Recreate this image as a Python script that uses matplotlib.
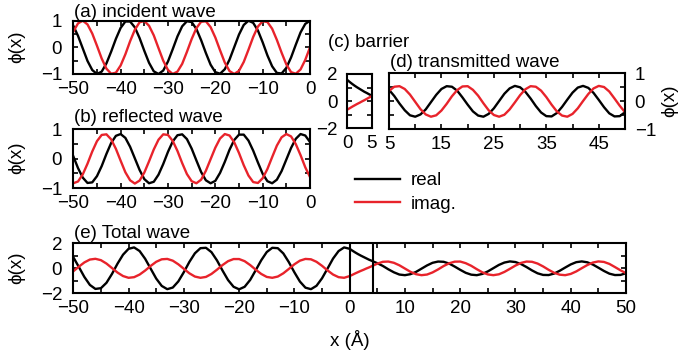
import numpy as np
import matplotlib
matplotlib.use('Agg')
import matplotlib.pyplot as plt
from matplotlib.ticker import MultipleLocator
from matplotlib.lines import Line2D

plt.rcParams['font.family'] = ['Liberation Sans', 'DejaVu Sans']
plt.rcParams['font.size'] = 13.5

x_left = list(range(-50, 1))          # -50 ... 0
x_barrier = [0, 0.5, 1, 1.5, 2, 2.5, 3, 3.5, 4, 4.5, 5]
x_trans = list(range(5, 51))          # 5 ... 50
barrier_lines = [0, 4.2]

inc_re = [0.81, 0.43, -0.04, -0.51, -0.85, -1.00, -0.91, -0.60, -0.16, 0.32,
          0.73, 0.97, 0.97, 0.75, 0.35, -0.13, -0.58, -0.90, -1.00, -0.87,
          -0.53, -0.07, 0.41, 0.79, 0.98, 0.95, 0.69, 0.27, -0.21, -0.65,
          -0.93, -0.99, -0.82, -0.46, 0.01, 0.48, 0.84, 1.00, 0.92, 0.63,
          0.19, -0.30, -0.71, -0.96, -0.98, -0.77, -0.38, 0.10, 0.56, 0.88, 1.00]
inc_im = [0.59, 0.90, 1.00, 0.86, 0.52, 0.06, -0.42, -0.80, -0.99, -0.95,
          -0.68, -0.26, 0.23, 0.66, 0.94, 0.99, 0.81, 0.45, -0.03, -0.50,
          -0.85, -1.00, -0.91, -0.62, -0.17, 0.31, 0.72, 0.96, 0.98, 0.76,
          0.37, -0.11, -0.57, -0.89, -1.00, -0.88, -0.55, -0.09, 0.39, 0.78,
          0.98, 0.95, 0.70, 0.28, -0.20, -0.64, -0.93, -0.99, -0.83, -0.47, 0.00]

ref_re = [0.08, -0.32, -0.64, -0.82, -0.80, -0.59, -0.25, 0.16, 0.53, 0.77,
          0.83, 0.70, 0.40, 0.01, -0.38, -0.69, -0.83, -0.78, -0.54, -0.18,
          0.23, 0.58, 0.79, 0.82, 0.66, 0.34, -0.06, -0.45, -0.73, -0.83,
          -0.75, -0.48, -0.11, 0.30, 0.63, 0.81, 0.81, 0.61, 0.27, -0.13,
          -0.51, -0.76, -0.83, -0.71, -0.42, -0.03, 0.36, 0.67, 0.83, 0.78, 0.56]
ref_im = [-0.83, -0.77, -0.53, -0.17, 0.24, 0.59, 0.80, 0.82, 0.65, 0.33,
          -0.07, -0.46, -0.73, -0.84, -0.74, -0.47, -0.09, 0.31, 0.64, 0.82,
          0.80, 0.60, 0.26, -0.15, -0.52, -0.76, -0.83, -0.71, -0.41, -0.02,
          0.37, 0.68, 0.83, 0.78, 0.55, 0.19, -0.22, -0.57, -0.79, -0.82,
          -0.66, -0.35, 0.05, 0.44, 0.72, 0.83, 0.75, 0.49, 0.12, -0.29, -0.62]

bar_re = [1.56, 1.41, 1.27, 1.14, 1.02, 0.91, 0.80, 0.69, 0.60, 0.50, 0.41]
bar_im = [-0.62, -0.52, -0.41, -0.31, -0.21, -0.12, -0.02, 0.07, 0.17, 0.27, 0.37]

tr_re = [0.41, 0.19, -0.08, -0.32, -0.50, -0.55, -0.47, -0.29, -0.03, 0.23,
         0.44, 0.54, 0.52, 0.38, 0.14, -0.12, -0.36, -0.51, -0.55, -0.45,
         -0.25, 0.01, 0.27, 0.46, 0.55, 0.50, 0.34, 0.10, -0.17, -0.40,
         -0.53, -0.54, -0.42, -0.20, 0.06, 0.31, 0.49, 0.55, 0.48, 0.30,
         0.05, -0.21, -0.43, -0.54, -0.53, -0.39]
tr_im = [0.37, 0.52, 0.54, 0.44, 0.24, -0.02, -0.28, -0.47, -0.55, -0.50,
         -0.33, -0.09, 0.18, 0.40, 0.53, 0.54, 0.41, 0.20, -0.07, -0.32,
         -0.49, -0.55, -0.48, -0.29, -0.04, 0.22, 0.43, 0.54, 0.52, 0.38,
         0.15, -0.12, -0.36, -0.51, -0.55, -0.45, -0.25, 0.01, 0.26, 0.46,
         0.55, 0.51, 0.35, 0.10, -0.16, -0.39]

tot_re = [0.89, 0.11, -0.69, -1.33, -1.65, -1.59, -1.16, -0.45, 0.37, 1.09,
          1.56, 1.67, 1.38, 0.76, -0.03, -0.82, -1.41, -1.67, -1.54, -1.05,
          -0.31, 0.51, 1.20, 1.61, 1.64, 1.29, 0.63, -0.18, -0.94, -1.48,
          -1.68, -1.48, -0.93, -0.16, 0.64, 1.30, 1.64, 1.61, 1.19, 0.49,
          -0.32, -1.06, -1.55, -1.67, -1.40, -0.80, -0.02, 0.78, 1.38, 1.67, 1.56]
tot_im = [-0.24, 0.13, 0.47, 0.70, 0.76, 0.65, 0.38, 0.02, -0.34, -0.62,
          -0.76, -0.71, -0.50, -0.18, 0.19, 0.52, 0.72, 0.75, 0.61, 0.32,
          -0.04, -0.40, -0.66, -0.76, -0.69, -0.45, -0.11, 0.26, 0.57, 0.74,
          0.74, 0.57, 0.26, -0.11, -0.45, -0.69, -0.76, -0.66, -0.40, -0.05,
          0.32, 0.61, 0.75, 0.72, 0.52, 0.20, -0.17, -0.50, -0.71, -0.76, -0.62]

legend_labels = ['real', 'imag.']
titles = ['(a) incident wave', '(b) reflected wave', '(c) barrier',
          '(d) transmitted wave', '(e) Total wave']

# ---------------- drawing ----------------
RED = '#e8232b'
LW = 1.7

fig = plt.figure(figsize=(6.79, 3.55), dpi=100)

def axpos(x0, y0, x1, y1):
    return [x0/679, 1-y1/355, (x1-x0)/679, (y1-y0)/355]

def style(ax, ypad=8, xpad=5):
    for s in ax.spines.values():
        s.set_linewidth(1.5)
    ax.tick_params(which='both', direction='in', top=True, right=True,
                   length=3.5, width=1.2)
    ax.tick_params(axis='y', pad=ypad)
    ax.tick_params(axis='x', pad=xpad)

# (a)
axa = fig.add_axes(axpos(73.3, 20.7, 310, 74))
axa.plot(x_left, inc_re, color='k', lw=LW)
axa.plot(x_left, inc_im, color=RED, lw=LW)
axa.set_xlim(-50, 0); axa.set_ylim(-1, 1)
axa.set_xticks([-50, -40, -30, -20, -10, 0]); axa.set_yticks([-1, 0, 1])
axa.xaxis.set_minor_locator(MultipleLocator(5)); axa.yaxis.set_minor_locator(MultipleLocator(0.5))
style(axa)

# (b)
axb = fig.add_axes(axpos(73.3, 129, 310, 188.3))
axb.plot(x_left, ref_re, color='k', lw=LW)
axb.plot(x_left, ref_im, color=RED, lw=LW)
axb.set_xlim(-50, 0); axb.set_ylim(-1, 1)
axb.set_xticks([-50, -40, -30, -20, -10, 0]); axb.set_yticks([-1, 0, 1])
axb.xaxis.set_minor_locator(MultipleLocator(5)); axb.yaxis.set_minor_locator(MultipleLocator(0.5))
style(axb)

# (c)
axc = fig.add_axes(axpos(347.3, 74, 371.7, 128.3))
axc.plot(x_barrier, bar_re, color='k', lw=LW)
axc.plot(x_barrier, bar_im, color=RED, lw=LW)
axc.set_xlim(0, 5); axc.set_ylim(-2, 2)
axc.set_xticks([0, 5]); axc.set_yticks([-2, 0, 2])
axc.yaxis.set_minor_locator(MultipleLocator(1))
style(axc, ypad=7)

# (d)
axd = fig.add_axes(axpos(389, 73.3, 625, 129.3))
axd.plot(x_trans, tr_re, color='k', lw=LW)
axd.plot(x_trans, tr_im, color=RED, lw=LW)
axd.set_xlim(5, 50); axd.set_ylim(-1, 1)
axd.set_xticks([5, 15, 25, 35, 45]); axd.set_yticks([-1, 0, 1])
axd.xaxis.set_minor_locator(MultipleLocator(5)); axd.yaxis.set_minor_locator(MultipleLocator(0.5))
style(axd, ypad=7)
axd.yaxis.tick_right()
axd.tick_params(which='both', left=True, right=True, direction='in')

# (e)
axe = fig.add_axes(axpos(73.3, 243.3, 626, 293.3))
xe = x_left + x_barrier[1:] + x_trans[1:]
ye_re = tot_re + bar_re[1:] + tr_re[1:]
ye_im = tot_im + bar_im[1:] + tr_im[1:]
axe.plot(xe, ye_re, color='k', lw=LW)
axe.plot(xe, ye_im, color=RED, lw=LW)
for xv in barrier_lines:
    axe.axvline(xv, color='k', lw=1.5)
axe.set_xlim(-50, 50); axe.set_ylim(-2, 2)
axe.set_xticks(np.arange(-50, 51, 10)); axe.set_yticks([-2, 0, 2])
axe.xaxis.set_minor_locator(MultipleLocator(5)); axe.yaxis.set_minor_locator(MultipleLocator(1))
style(axe)

def ft(x, y, s, **kw):
    fig.text(x/679, 1-y/355, s, **kw)

ft(74, 16.7, titles[0], va='baseline')
ft(74, 121.7, titles[1], va='baseline')
ft(328, 47, titles[2], va='baseline')
ft(390, 66.7, titles[3], va='baseline')
ft(74, 238, titles[4], va='baseline')
PHI = '\u03d5(x)'
ft(16.7, 47, PHI, rotation=90, ha='center', va='center')
ft(16.7, 158, PHI, rotation=90, ha='center', va='center')
ft(16.7, 268, PHI, rotation=90, ha='center', va='center')
ft(670, 101, PHI, rotation=90, ha='center', va='center')
ft(350, 340, 'x (\u00c5)', ha='center', va='center')

handles = [Line2D([], [], color='k', lw=LW), Line2D([], [], color=RED, lw=LW)]
fig.legend(handles, legend_labels, loc='upper left',
           bbox_to_anchor=(355/679, 1-172/355), frameon=False,
           handlelength=2.4, handletextpad=0.6, labelspacing=0.35,
           borderpad=0, borderaxespad=0)

fig.savefig('out.png', dpi=100)
